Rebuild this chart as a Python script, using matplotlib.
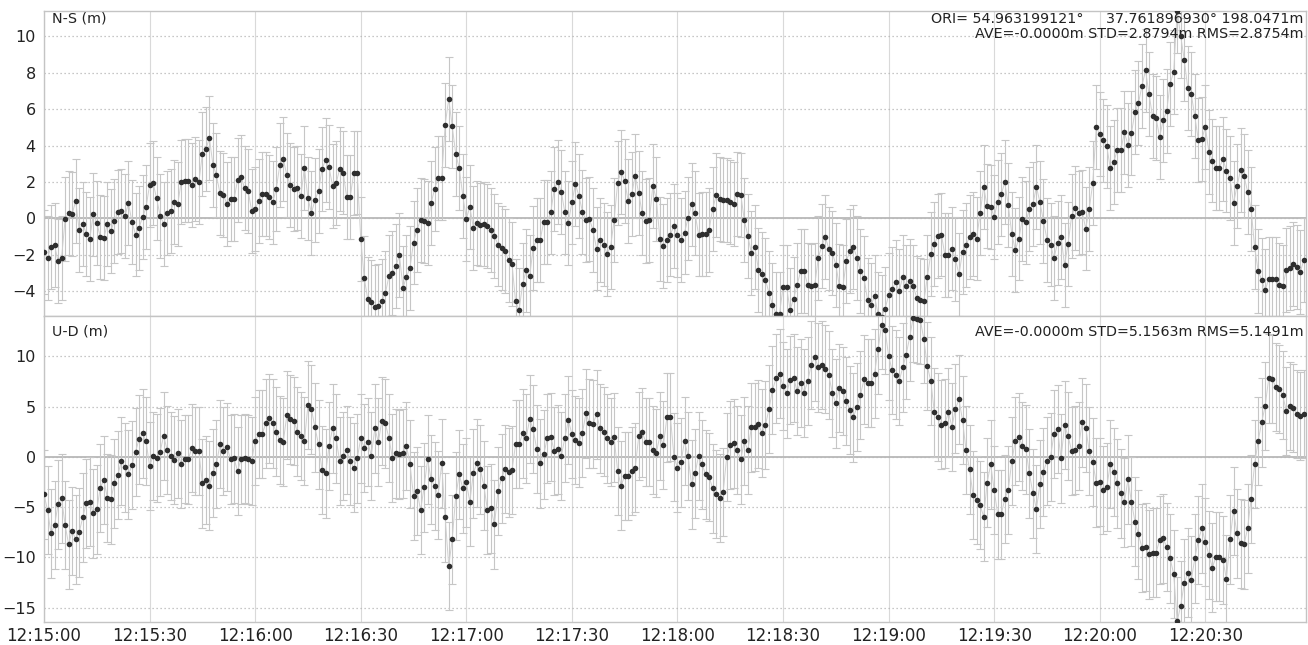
import numpy as np
import matplotlib
matplotlib.use('Agg')
import matplotlib.pyplot as plt
import matplotlib.dates as mdates

# ---------------- data ----------------
start_time = np.datetime64('2024-01-01T12:15:00')

ns_values = [
    -1.84, -2.15, -1.56, -1.47, -2.35, -2.17, -0.04, 0.31, 0.24, 0.97,
    -0.64, -0.28, -0.83, -1.12, 0.22, -0.24, -1.01, -1.07, -0.31, -0.68,
    -0.13, 0.35, 0.40, 0.13, 0.83, -0.18, -0.88, -0.50, 0.06, 0.61,
    1.84, 1.95, 1.10, 0.15, -0.28, 0.28, 0.40, 0.92, 0.79, 2.02,
    2.08, 2.08, 1.84, 2.17, 2.00, 3.53, 3.80, 4.41, 2.94, 2.37,
    1.38, 1.27, 0.79, 1.08, 1.05, 2.11, 2.30, 1.65, 1.52, 0.42,
    0.53, 0.95, 1.34, 1.34, 1.19, 0.88, 1.63, 2.94, 3.27, 2.37,
    1.82, 1.63, 1.65, 1.25, 2.79, 1.10, 0.31, 1.01, 1.51, 2.70,
    3.21,
    2.81, 1.78, 1.93, 2.70, 2.52, 1.19, 1.16, 2.48, 2.52, -1.12,
    -3.27, -4.44, -4.59, -4.83, -4.78, -4.55, -4.10, -3.18, -2.99, -2.61,
    -2.02, -3.80, -3.21, -2.70, -1.32, -0.61, -0.09, -0.15, -0.24, 0.83,
    1.63, 2.24, 2.20, 5.14, 6.56, 5.05, 3.54, 2.75, 1.25, -0.02,
    0.64, -0.50, -0.24, -0.33, -0.28, -0.42, -0.64, -0.97, -1.43, -1.60,
    -1.78, -2.30, -2.52, -4.55, -5.01, -3.62, -2.85, -3.18, -1.60, -1.16,
    -1.16, -0.18, -0.18, 0.33, 1.63, 2.02, 1.47, 0.33, -0.24, 0.88,
    1.87, 1.25, 0.37, -0.09, -0.04, -0.64, -1.65, -1.16, -1.43, -1.93,
    -1.56, -0.09, 1.97, 2.57, 2.06, 0.95, 1.34, 2.35, 1.38, 0.28,
    -0.13,
    -0.09, 1.80, 1.07, -1.14, -1.51, -1.19, -0.88, -0.40, -0.92, -1.19,
    -0.77, 0.00, 0.77, 0.28, -0.88, -0.83, -0.83, -0.61, 0.51, 1.27,
    1.05, 1.01, 1.01, 0.92, 0.79, 1.34, 1.29, -0.09, -0.96, -1.89,
    -1.56, -2.81, -3.03, -3.36, -4.08, -4.72, -5.23, -5.23, -3.76, -3.76,
    -5.01, -4.41, -3.64, -2.90, -2.90, -3.67, -3.71, -3.67, -2.17, -1.52,
    -1.01, -1.65, -1.89, -2.53, -3.71, -3.76, -2.33, -1.78, -1.56, -2.15,
    -2.90, -3.25, -4.46, -4.74, -4.28, -5.23, -5.38, -4.96, -4.22, -3.89,
    -3.49, -3.99, -3.21, -3.73, -3.45, -3.73, -4.35, -4.46, -4.55, -3.21,
    -1.93, -1.41, -0.96, -0.88, -2.02, -2.02, -1.65, -2.24, -3.07, -1.84,
    -1.47,
    -1.01, -0.83, -1.10, 0.28, 1.74, 0.68, 0.64, 0.09, 0.92, 1.32,
    1.98, 0.73, -0.83, -1.74, -1.10, -0.04, -0.22, 0.51, 0.79, 1.74,
    0.88, -0.13, -1.16, -1.43, -2.17, -1.34, -1.01, -2.57, -1.38, 0.13,
    0.59, 0.31, 0.37, -0.55, 0.51, 1.93, 5.00, 4.63, 4.28, 3.95,
    2.75, 3.12, 3.76, 3.76, 4.72, 4.04, 4.68, 5.84, 6.34, 7.29,
    8.12, 6.83, 5.60, 5.51, 4.46, 5.38, 5.88, 7.40, 8.04, 11.39,
    10.00, 8.72, 7.16, 6.83, 5.60, 4.32, 4.37, 5.00, 3.67, 3.18,
    2.79, 2.79, 3.25, 2.63, 2.20, 0.83, 1.78, 2.66, 2.33, 1.47,
    0.51, -1.56, -2.88, -3.36, -3.95, -3.31, -3.31, -3.31, -3.67, -3.73,
    -2.81, -2.70, -2.48, -2.66, -2.94, -2.26,
]

ud_values = [
    -3.74, -5.30, -7.62, -6.79, -4.74, -4.14, -6.79, -8.71, -7.36, -8.22,
    -7.52, -6.03, -4.64, -4.47, -5.63, -5.24, -3.08, -2.32, -4.08, -4.24,
    -2.65, -1.82, -0.40, -1.06, -1.76, -0.83, 0.50, 1.72, 2.32, 1.56,
    -0.93, 0.10, -0.10, 0.50, 2.09, 0.66, 0.07, -0.33, 0.33, -0.73,
    -0.23, -0.27, 0.89, 0.56, 0.56, -2.65, -2.32, -2.88, -1.59, -0.73,
    1.26, 0.60, 0.99, -0.27, -0.17, -1.42, -0.27, -0.17, -0.27, -0.40,
    1.56, 2.25, 2.25, 3.31, 3.81, 3.31, 2.49, 1.66, 1.49, 4.14,
    3.71, 3.58, 2.49, 2.05, 1.56, 5.14, 4.71, 2.92, 1.23, -1.33,
    -1.66,
    1.06, 2.82, 1.82, -0.43, 0.10, 0.66, -0.40, -1.09, -0.17, 1.82,
    0.89, 1.49, 0.10, 2.82, 1.49, 3.55, 3.31, 1.89, -0.10, 0.33,
    0.23, 0.33, 1.09, -0.73, -3.91, -3.38, -5.30, -3.05, -0.27, -2.25,
    -2.92, -3.81, -0.66, -6.03, -10.84, -8.22, -3.91, -1.76, -3.15, -2.55,
    -4.47, -1.66, -0.60, -1.26, -2.88, -5.30, -5.14, -6.73, -3.41, -2.15,
    -1.23, -1.56, -1.33, 1.26, 1.26, 2.32, 1.82, 3.74, 2.75, 0.76,
    -0.66, 0.23, 1.82, 1.99, 0.56, 0.73, 0.10, 1.89, 3.64, 2.25,
    1.66, 1.42, 2.39, 4.31, 3.31, 3.25, 4.21, 2.82, 2.49, 1.82,
    1.49, 1.92, -1.42, -2.88, -1.89, -1.89, -1.42, -1.09, 2.05, 2.42,
    1.49,
    1.49, 0.66, 0.40, 2.09, 1.16, 3.91, 3.98, 0.00, -1.09, -0.56,
    1.56, 0.10, -2.75, -1.66, 0.10, -0.76, -1.76, -1.99, -3.15, -3.71,
    -4.08, -3.48, 0.00, 1.16, 1.33, 0.66, -0.27, 1.56, 0.66, 2.92,
    2.98, 3.25, 2.39, 3.15, 4.74, 6.63, 7.79, 8.28, 7.02, 6.30,
    7.62, 7.85, 6.53, 7.36, 6.36, 7.52, 9.11, 9.94, 8.88, 9.11,
    8.71, 8.12, 6.36, 5.30, 6.86, 6.53, 5.53, 4.64, 3.91, 4.97,
    6.13, 7.69, 7.36, 7.36, 8.28, 10.67, 13.09, 12.59, 10.04, 8.61,
    8.18, 7.52, 8.88, 10.17, 11.93, 13.85, 13.75, 13.65, 11.70, 9.01,
    7.52, 4.41, 3.98, 3.21, 3.31, 4.41, 2.98, 4.80, 5.70, 3.64,
    0.66,
    -1.26, -3.81, -4.31, -4.80, -5.96, -2.58, -0.76, -3.31, -5.73, -5.73,
    -4.21, -3.31, -0.43, 1.56, 1.99, 1.06, 0.73, -1.66, -3.64, -5.20,
    -2.72, -1.49, -0.40, 0.00, 2.25, 2.75, -0.17, 3.15, 2.05, 0.60,
    0.66, 1.06, 3.41, 2.88, 0.60, -0.50, -2.58, -2.49, -3.31, -2.98,
    -0.73, -1.49, -2.65, -3.64, -4.54, -2.25, -4.47, -6.46, -7.72, -9.05,
    -8.95, -9.71, -9.54, -9.54, -8.28, -8.12, -8.95, -10.11, -11.66, -16.34,
    -14.81, -12.59, -11.53, -12.26, -10.11, -8.28, -7.12, -8.45, -9.77, -11.03,
    -9.94, -9.94, -10.27, -12.19, -8.22, -5.40, -7.62, -8.61, -8.71, -7.12,
    -4.21, -0.73, 1.56, 3.41, 5.04, 7.79, 7.72, 6.96, 6.73, 6.13,
    4.54, 5.04, 4.87, 4.24, 4.04, 4.24,
]

ns_error = 2.3
ud_error = 4.4

ns_yticks = [-4, -2, 0, 2, 4, 6, 8, 10]
ud_yticks = [-15, -10, -5, 0, 5, 10]

ns_title = 'N-S (m)'
ud_title = 'U-D (m)'
ns_info_1 = 'ORI= 54.963199121\u00b0     37.761896930\u00b0 198.0471m'
ns_info_2 = 'AVE=-0.0000m STD=2.8794m RMS=2.8754m'
ud_info = 'AVE=-0.0000m STD=5.1563m RMS=5.1491m'

# ---------------- figure ----------------
plt.rcParams['font.family'] = ['DejaVu Sans']

W, H = 1308, 645
fig = plt.figure(figsize=(W / 100, H / 100), dpi=100)

left = 44 / W
width = 1262 / W
ax1 = fig.add_axes([left, 1 - 316 / H, width, (316 - 10.7) / H])
ax2 = fig.add_axes([left, 1 - 621.7 / H, width, (621.7 - 316) / H], sharex=ax1)

n = len(ns_values)
times = start_time + np.arange(n).astype('timedelta64[s]')


def draw(ax, vals, err, yticks, ylim):
    ax.axhline(0, color='#b8b8b8', lw=1.3, zorder=1)
    ax.errorbar(times, vals, yerr=err, fmt='none', ecolor='#c6c6c6',
                elinewidth=0.8, capsize=2.6, capthick=0.8, zorder=2)
    ax.plot(times, vals, '-', color='#cfcfcf', lw=0.7, zorder=3)
    ax.plot(times, vals, 'o', color='#2e2e2e', ms=4.0, mew=0, zorder=4)
    ax.set_ylim(*ylim)
    ax.set_yticks(yticks)
    ax.yaxis.grid(True, linestyle=(0, (1, 2.2)), color='#b5b5b5', lw=0.9)
    ax.xaxis.grid(True, linestyle='-', color='#d9d9d9', lw=0.8)
    ax.set_axisbelow(True)
    ax.tick_params(length=0, labelsize=11.5, colors='#222222', pad=6)
    for s in ax.spines.values():
        s.set_color('#c4c4c4')
        s.set_linewidth(1.0)


draw(ax1, ns_values, ns_error, ns_yticks, (-5.35, 11.4))
draw(ax2, ud_values, ud_error, ud_yticks, (-16.4, 14.0))

ax1.set_xlim(start_time, start_time + np.timedelta64(358600, 'ms'))
ax2.xaxis.set_major_locator(mdates.SecondLocator(bysecond=[0, 30]))
ax2.xaxis.set_major_formatter(mdates.DateFormatter('%H:%M:%S'))
plt.setp(ax1.get_xticklabels(), visible=False)
ax2.tick_params(axis='x', pad=4, labelsize=12)

txt_kw = dict(fontsize=10.3, color='#222222')
ax1.text(0.0065, 0.996, ns_title, transform=ax1.transAxes, ha='left', va='top', **txt_kw)
ax1.text(0.9978, 0.996, ns_info_1, transform=ax1.transAxes, ha='right', va='top', **txt_kw)
ax1.text(0.9978, 0.947, ns_info_2, transform=ax1.transAxes, ha='right', va='top', **txt_kw)
ax2.text(0.0065, 0.972, ud_title, transform=ax2.transAxes, ha='left', va='top', **txt_kw)
ax2.text(0.9978, 0.972, ud_info, transform=ax2.transAxes, ha='right', va='top', **txt_kw)

fig.savefig('out.png', dpi=100)
